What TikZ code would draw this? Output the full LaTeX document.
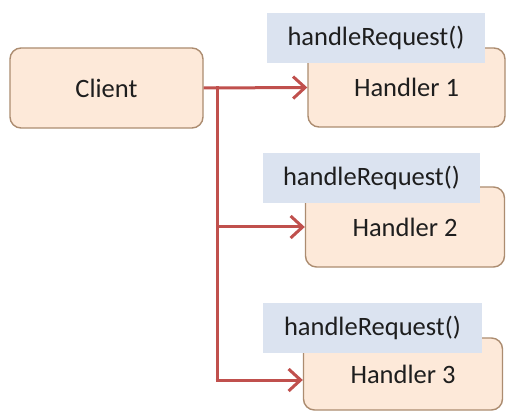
\documentclass[tikz,border=0pt]{standalone}
\usepackage{fontspec}
\setmainfont{Carlito}
\usetikzlibrary{arrows.meta,calc}
\definecolor{boxfill}{HTML}{FDE9D9}
\definecolor{boxline}{HTML}{AC8C70}
\definecolor{labfill}{HTML}{DBE3F0}
\definecolor{arrowred}{HTML}{C0504D}
\definecolor{txt}{HTML}{1E1E1E}
\tikzset{
  peachbox/.style={draw=boxline, fill=boxfill, line width=1.4pt, rounded corners=11pt,
    inner sep=0pt, text=txt, font=\fontsize{26.5}{29}\selectfont},
  methodlabel/.style={fill=labfill, inner sep=0pt, text=txt,
    minimum height=50pt, font=\fontsize{26.5}{29}\selectfont},
  link/.style={draw=arrowred, line width=3pt,
    -{Straight Barb[length=12pt, width=22pt, line width=3pt]}},
  plainlink/.style={draw=arrowred, line width=3pt}
}
\begin{document}
\begin{tikzpicture}[x=1pt,y=-1pt]
\useasboundingbox (0,0) rectangle (506,414);
\fill[white] (0,0) rectangle (506,414);
% client
\node[peachbox, minimum width=193pt, minimum height=80pt] (client) at (106.5,88) {Client};
% handlers
\node[peachbox, minimum width=197pt, minimum height=79pt] (h1) at (406.5,87.5) {Handler 1};
\node[peachbox, minimum width=199pt, minimum height=80pt] (h2) at (405,227) {Handler 2};
\node[peachbox, minimum width=199pt, minimum height=72pt] (h3) at (403,374) {Handler 3};
% labels
\node[methodlabel, minimum width=218pt] (l1) at (376,38) {handleRequest()};
\node[methodlabel, minimum width=217pt] (l2) at (371.5,178) {handleRequest()};
\node[methodlabel, minimum width=219pt] (l3) at (372.5,328) {handleRequest()};
% connectors
\coordinate (j) at (217,88);
\coordinate (b) at (217,380);
\draw[link] (client.east) -- (h1.west);
\draw[plainlink] ($(j)+(0,-1.5)$) -- (b);
\draw[link] (j |- h2.west) -- (h2.west);
\draw[link] ($(b)+(-1.5,0)$) -- (b -| h3.west);
\end{tikzpicture}
\end{document}
